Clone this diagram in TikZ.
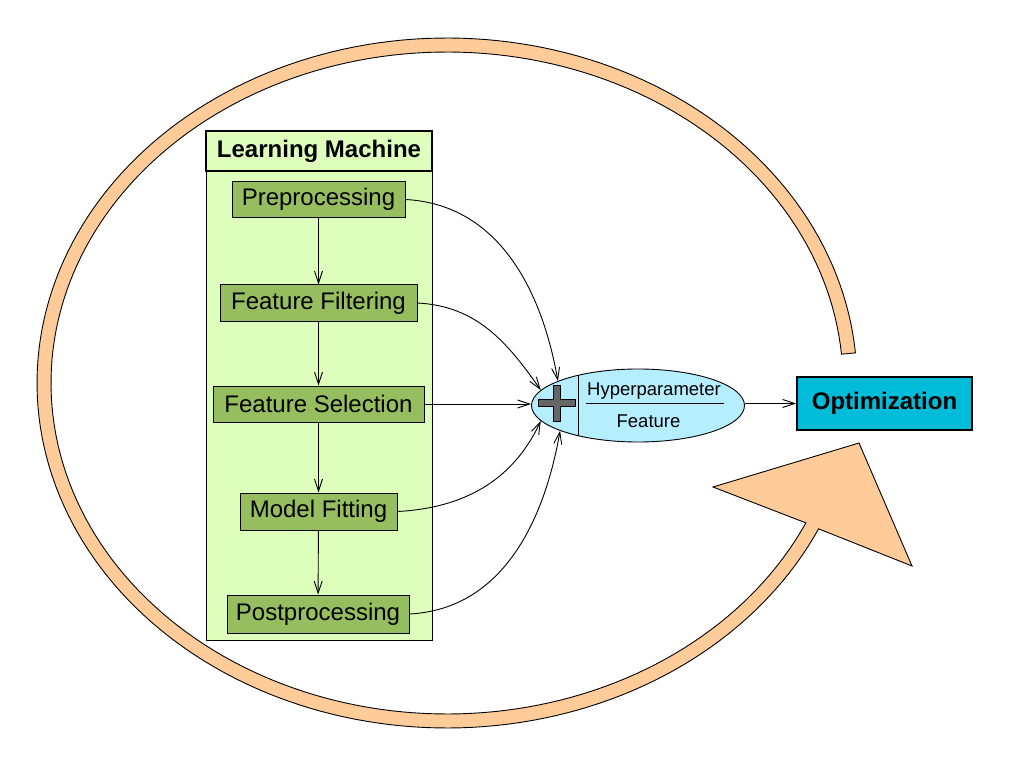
\documentclass[tikz,border=0pt]{standalone}
\usepackage{fontspec}
\setmainfont{Liberation Sans}
\usetikzlibrary{arrows.meta,shapes.geometric}
\definecolor{peach}{HTML}{FFCC99}
\definecolor{bodyfill}{HTML}{DDFFBB}
\definecolor{stepfill}{HTML}{96BE5F}
\definecolor{hpfill}{HTML}{B4EEFF}
\definecolor{optfill}{HTML}{00BCD8}
\definecolor{plusgrey}{HTML}{666666}
\tikzset{
  stepbox/.style={draw=black, line width=1pt, fill=stepfill, inner sep=0pt,
    minimum height=36pt, font=\fontsize{24}{28}\selectfont},
  con/.style={-{Straight Barb[length=12pt,width=8pt]}, line width=0.9pt},
}
\begin{document}
\begin{tikzpicture}[x=1pt,y=-1pt]
\useasboundingbox (0,0) rectangle (1009,767);
% big feedback ring with arrowhead
\filldraw[fill=peach, draw=black, line width=0.9pt]
  plot[domain=-5:-335, samples=200] ({447+410*cos(\x)},{383+345*sin(\x)})
  -- (912,566) -- (859,443) -- (713,487)
  -- plot[domain=-335:-5, samples=200] ({447+396*cos(\x)},{383+331*sin(\x)})
  -- cycle;
% learning machine container
\node[draw=black, line width=1pt, fill=bodyfill, minimum width=226pt, minimum height=470pt, inner sep=0pt] (body) at (319,405) {};
\node[draw=black, line width=2pt, fill=bodyfill, minimum width=226pt, minimum height=40pt, inner sep=0pt,
  font=\bfseries\fontsize{24}{28}\selectfont] (head) at (319,151) {Learning Machine};
% steps
\node[stepbox, minimum width=173pt] (pre) at (318.5,199.5) {Preprocessing};
\node[stepbox, minimum width=197pt] (ff) at (318.5,303) {Feature Filtering};
\node[stepbox, minimum width=211pt] (fs) at (318.5,404) {Feature Selection};
\node[stepbox, minimum width=157pt, minimum height=37pt] (mf) at (318.5,511.5) {Model Fitting};
\node[stepbox, minimum width=182pt, minimum height=38pt] (pp) at (318,614) {Postprocessing};
\draw[con] (pre) -- (ff);
\draw[con] (ff) -- (fs);
\draw[con] (fs) -- (mf);
\draw[con] (mf) -- (pp);
% hyperparameter / feature ellipse
\node[ellipse, draw=black, line width=0.9pt, fill=hpfill, minimum width=213pt, minimum height=73pt, inner sep=0pt] (hp) at (638,405.5) {};
\draw[line width=0.9pt] (578,375) -- (578,436);
\draw[line width=0.9pt] (586,403) -- (724,403);
\node[font=\fontsize{18.5}{22}\selectfont, inner sep=0pt] (hyp) at (654,391) {Hyperparameter};
\node[font=\fontsize{18.5}{22}\selectfont, inner sep=0pt] (feat) at (648.5,421) {Feature};
\filldraw[fill=plusgrey, draw=black, line width=0.9pt]
  (553.5,385) -- (560.5,385) -- (560.5,399.5) -- (575.5,399.5) -- (575.5,406.5) -- (560.5,406.5)
  -- (560.5,421) -- (553.5,421) -- (553.5,406.5) -- (538.5,406.5) -- (538.5,399.5) -- (553.5,399.5) -- cycle;
% optimization
\node[draw=black, line width=2pt, fill=optfill, minimum width=175pt, minimum height=53pt, inner sep=0pt,
  font=\bfseries\fontsize{24}{28}\selectfont] (opt) at (884.5,403.5) {Optimization};
% connectors
\draw[con] (pre.east) to[out=-3, in=100] (hp.163);
\draw[con] (ff.east) to[out=-3, in=125] (hp.171);
\draw[con] (fs.east) -- (fs.east -| hp.west);
\draw[con] (mf.east) to[out=3, in=-115] (hp.189);
\draw[con] (pp.east) to[out=3, in=-100] (hp.198);
\draw[con] (hp.east |- opt.west) -- (opt.west);
\end{tikzpicture}
\end{document}
